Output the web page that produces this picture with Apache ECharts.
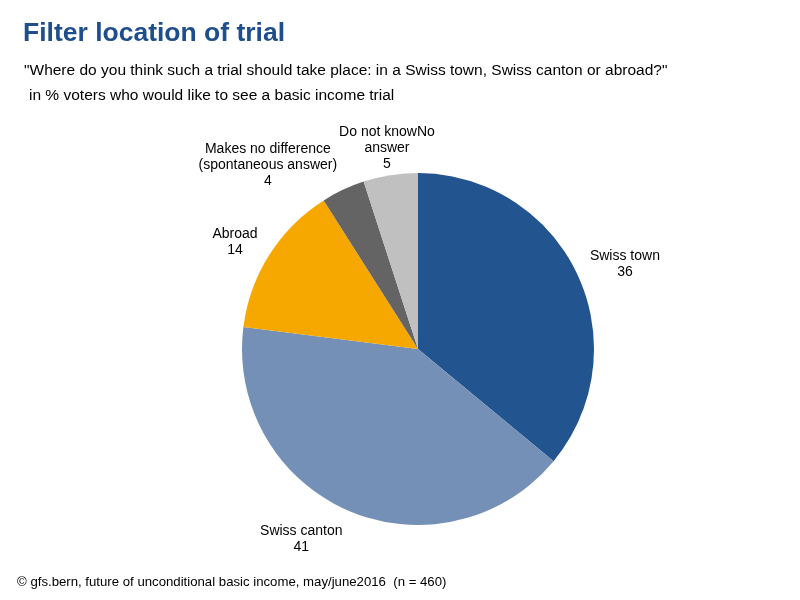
<!DOCTYPE html>
<html>
<head>
<meta charset="utf-8">
<script src="https://cdn.jsdelivr.net/npm/echarts@6/dist/echarts.min.js"></script>
<style>html,body{margin:0;padding:0;background:#fff}#c{width:800px;height:600px}</style>
</head>
<body>
<div id="c"></div>
<script>
const categories = ['Swiss town', 'Swiss canton', 'Abroad', 'Makes no difference\n(spontaneous answer)', 'Do not knowNo\nanswer'];
const values = [36, 41, 14, 4, 5];
const colors = ['#22548f', '#7590b6', '#f6a800', '#646464', '#c0c0c0'];

const CX = 418, CY = 349, R = 176, GAP = 14;
const total = values.reduce((a, b) => a + b, 0);
const placed = [];

function layoutLabel(params) {
  const i = params.dataIndex;
  if (i === 0) placed.length = 0;
  let before = 0;
  for (let k = 0; k < i; k++) before += values[k];
  const mid = (before + values[i] / 2) / total * Math.PI * 2;
  const dx = Math.sin(mid), dy = -Math.cos(mid);
  const w = params.labelRect.width, h = params.labelRect.height;
  const px = CX + (R + GAP) * dx, py = CY + (R + GAP) * dy;
  let x = px + Math.sign(dx) * Math.min(1, 3 * Math.abs(dx)) * w / 2;
  let y = py + dy * h / 2 * (dy < 0 ? 0.55 : 1.05);
  const prev = placed[i - 1];
  if (prev) {
    const l = x - w / 2, r = x + w / 2, t = y - h / 2, b = y + h / 2;
    if (l < prev.r && r > prev.l && t < prev.b && b > prev.t) {
      const shifts = [
        [prev.r + 2 - l, 0], [prev.l - 2 - r, 0],
        [0, prev.b + 2 - t], [0, prev.t - 2 - b]
      ];
      shifts.sort((a, b2) => Math.hypot(a[0], a[1]) - Math.hypot(b2[0], b2[1]));
      x += shifts[0][0]; y += shifts[0][1];
    }
  }
  placed[i] = { l: x - w / 2, r: x + w / 2, t: y - h / 2, b: y + h / 2 };
  return { x: x, y: y, align: 'center', verticalAlign: 'middle' };
}

const chart = echarts.init(document.getElementById('c'), null, { renderer: 'canvas' });
const FONT = 'Liberation Sans, Arial, sans-serif';
chart.setOption({
  animation: false,
  title: [
    { text: 'Filter location of trial', left: 23, top: 20, padding: 0,
      textStyle: { fontFamily: FONT, fontSize: 26.5, fontWeight: 'bold', color: '#1f4e8c' } },
    { text: '"Where do you think such a trial should take place: in a Swiss town, Swiss canton or abroad?"', left: 24, top: 63, padding: 0,
      textStyle: { fontFamily: FONT, fontSize: 15.5, fontWeight: 'normal', color: '#000' } },
    { text: 'in % voters who would like to see a basic income trial', left: 29, top: 88, padding: 0,
      textStyle: { fontFamily: FONT, fontSize: 15.5, fontWeight: 'normal', color: '#000' } },
    { text: '\u00a9 gfs.bern, future of unconditional basic income, may/june2016  (n = 460)', left: 17, top: 576, padding: 0,
      textStyle: { fontFamily: FONT, fontSize: 13.2, fontWeight: 'normal', color: '#000' } }
  ],
  series: [{
    type: 'pie',
    center: [CX, CY],
    radius: R,
    startAngle: 90,
    clockwise: true,
    avoidLabelOverlap: false,
    itemStyle: { borderWidth: 0 },
    label: {
      show: true, position: 'outside', formatter: '{b}\n{c}',
      fontFamily: FONT, fontSize: 14, lineHeight: 16, color: '#000', align: 'center'
    },
    labelLine: { show: false },
    labelLayout: layoutLabel,
    emphasis: { disabled: true },
    data: categories.map((c, i) => ({ name: c, value: values[i], itemStyle: { color: colors[i] } }))
  }]
});
</script>
</body>
</html>
